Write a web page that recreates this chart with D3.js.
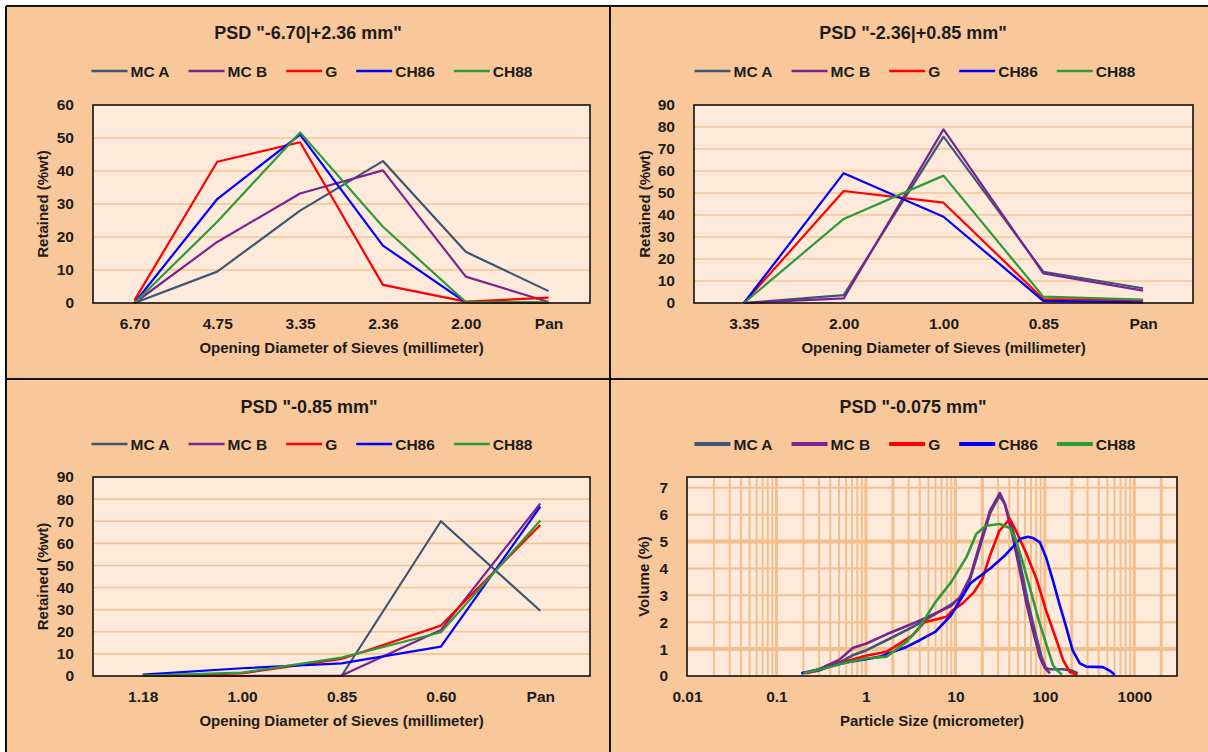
<!DOCTYPE html>
<html>
<head>
<meta charset="utf-8">
<script src="https://cdn.jsdelivr.net/npm/d3@7"></script>
<style>
body { margin:0; background:#fff; }
svg text { font-family: "Liberation Sans", Arial, sans-serif; font-weight: bold; fill:#1c1c1c; }
.tick text { font-size:15.5px; }
</style>
</head>
<body>
<script>
var seriesNames = ["MC A","MC B","G","CH86","CH88"];
var seriesColors = ["#3d5675","#7a2391","#ff0000","#0000ff","#2e9a38"];

// PSD "-6.70|+2.36 mm"
var sieves1 = ["6.70","4.75","3.35","2.36","2.00","Pan"];
var mcA1  = [0, 9.5, 28, 43, 15.5, 3.6];
var mcB1  = [0, 18.5, 33.2, 40.2, 8, 0.3];
var g1    = [0.8, 42.8, 48.7, 5.5, 0.4, 1.6];
var ch86a = [0, 31.5, 51, 17.4, 0.2, 0];
var ch88a = [0, 24.6, 51.7, 23.1, 0.3, 0.2];

// PSD "-2.36|+0.85 mm"
var sieves2 = ["3.35","2.00","1.00","0.85","Pan"];
var mcA2  = [0, 3.6, 75.6, 14.2, 6.7];
var mcB2  = [0, 2.1, 78.9, 13.5, 5.6];
var g2    = [0, 50.9, 45.6, 1.8, 1.3];
var ch86b = [0, 59, 39.2, 1, 0.3];
var ch88b = [0, 38.2, 57.9, 2.9, 1.6];

// PSD "-0.85 mm"
var sieves3 = ["1.18","1.00","0.85","0.60","Pan"];
var mcA3  = [0, 0, 0, 70, 29.5];
var mcB3  = [0, 0, 0.2, 20.8, 78];
var g3    = [0, 1.2, 7.7, 22.8, 68.3];
var ch86c = [0.6, 3.5, 5.7, 13.3, 76.6];
var ch88c = [0.2, 1.5, 8.3, 19.8, 70.3];

// PSD "-0.075 mm"  [size um, volume %]
var mcA4 = [[0.19,0.1],[0.3,0.2],[0.5,0.5],[0.72,0.78],[1.0,0.95],[1.7,1.33],[3.35,1.83],[5,2.15],[8.9,2.65],[11.3,2.9],[14.6,3.6],[18.8,4.8],[24.4,6.05],[31,6.7],[35.7,6.4],[46.2,5.16],[54.8,3.93],[65.3,2.69],[77,1.7],[91.8,0.71],[103,0.3],[114,0.25],[160,0.25],[200,0.2],[234,0.1]];
var mcB4 = [[0.21,0.1],[0.3,0.25],[0.5,0.6],[0.72,1.05],[1.0,1.2],[1.7,1.55],[3.35,1.95],[4.9,2.2],[8.9,2.6],[11.3,2.94],[14.6,3.68],[18.8,4.91],[24.4,6.15],[31.4,6.8],[35.7,6.4],[43.9,5.16],[52.4,3.93],[62.4,2.69],[73.4,1.7],[87.6,0.71],[100,0.3],[114,0.1]];
var g4 = [[0.22,0.1],[0.35,0.3],[0.6,0.55],[1.0,0.75],[1.7,0.9],[3.35,1.52],[4.5,2.0],[6,2.1],[8,2.2],[9,2.4],[12,2.7],[16,3.1],[20,3.6],[24.5,4.5],[31,5.4],[40.6,5.84],[47.6,5.4],[62.4,4.54],[81.7,3.56],[103,2.44],[135,1.33],[160,0.59],[190,0.15],[230,0.05]];
var ch86d = [[0.19,0.1],[0.3,0.25],[0.6,0.5],[1.0,0.62],[1.43,0.72],[2.84,1.08],[4,1.33],[6,1.65],[8.9,2.25],[14.7,3.45],[24.5,4.0],[35,4.45],[53,5.1],[65,5.18],[75,5.12],[88,4.97],[103,4.42],[123,3.56],[145,2.69],[173,1.83],[204,0.96],[246,0.47],[292,0.35],[444,0.33],[530,0.2],[605,0.05]];
var ch88d = [[0.2,0.1],[0.35,0.3],[0.6,0.5],[1.0,0.65],[1.7,0.72],[2.84,1.27],[4,1.83],[6,2.75],[9,3.5],[13.3,4.42],[17.1,5.28],[21.9,5.59],[31.4,5.65],[40.6,5.5],[47.6,5.04],[57.3,4.17],[70.9,3.06],[87.6,1.95],[109,0.96],[123,0.41],[138,0.2],[155,0.05]];
var sizeTicks = [0.01, 0.1, 1, 10, 100, 1000];

var peach = "#f8c89b";
var plotBg = "#fdeadb";
var gridCol = "#f3c596";

var svg = d3.select("body").append("svg").attr("width",1208).attr("height",752);
svg.append("rect").attr("width",1208).attr("height",752).attr("fill","#fff");
svg.append("rect").attr("x",6).attr("y",6).attr("width",1202).attr("height",746).attr("fill",peach);
[[6,6,1208,6],[6,6,6,752],[610,6,610,752],[6,379,1208,379]].forEach(function(l){
    svg.append("line").attr("x1",l[0]).attr("y1",l[1]).attr("x2",l[2]).attr("y2",l[3])
        .attr("stroke","#111").attr("stroke-width",2);
});

function drawLegend(cx, cy, lineW)
{
    var g = svg.append("g");
    var x = 0;
    seriesNames.forEach(function(name, i){
        g.append("line").attr("x1",x).attr("x2",x+36).attr("y1",0).attr("y2",0)
            .attr("stroke",seriesColors[i]).attr("stroke-width",lineW);
        var t = g.append("text").attr("x",x+39).attr("y",0).attr("dy","0.36em")
            .style("font-size","15.5px").text(name);
        x += 39 + t.node().getComputedTextLength() + 19;
    });
    x -= 19;
    g.attr("transform","translate("+(cx - x/2)+","+cy+")");
}

function drawTexts(p, xTitle, yTitle)
{
    svg.append("text").attr("x",p.titleX).attr("y",p.titleY).attr("dy","0.36em")
        .attr("text-anchor","middle").style("font-size","18px").text(p.title);
    svg.append("text").attr("x",p.left + p.width/2).attr("y",p.top + p.height + 45).attr("dy","0.36em")
        .attr("text-anchor","middle").style("font-size","15px").text(xTitle);
    svg.append("text").attr("transform","translate("+p.yTitleX+","+(p.top + p.height/2)+") rotate(-90)")
        .attr("dy","0.36em").attr("text-anchor","middle").style("font-size","15px").text(yTitle);
    drawLegend(p.legendX, p.legendY, p.legendW);
}

function cleanAxis(g)
{
    g.attr("font-family",null).attr("font-size",null);
    g.select(".domain").remove();
}

function sievePanel(p)
{
    var x = d3.scalePoint().domain(p.cats).range([p.left, p.left + p.width]).padding(0.5);
    var y = d3.scaleLinear().domain([0, p.ymax]).range([p.top + p.height, p.top]);
    var ticks = d3.range(0, p.ymax + 1, 10);

    svg.append("rect").attr("x",p.left).attr("y",p.top).attr("width",p.width).attr("height",p.height).attr("fill",plotBg);
    svg.append("g").selectAll("line").data(ticks.slice(1, -1)).enter().append("line")
        .attr("x1",p.left).attr("x2",p.left + p.width)
        .attr("y1",function(d){ return y(d); }).attr("y2",function(d){ return y(d); })
        .attr("stroke",gridCol).attr("stroke-width",1.6);

    var line = d3.line().x(function(d,i){ return x(p.cats[i]); }).y(function(d){ return y(d); });
    p.values.forEach(function(vals, i){
        svg.append("path").attr("d",line(vals)).attr("fill","none")
            .attr("stroke",seriesColors[i]).attr("stroke-width",2.2).attr("stroke-linejoin","round");
    });
    svg.append("rect").attr("x",p.left).attr("y",p.top).attr("width",p.width).attr("height",p.height)
        .attr("fill","none").attr("stroke","#111").attr("stroke-width",1.6);

    svg.append("g").attr("transform","translate("+p.left+",0)")
        .call(d3.axisLeft(y).tickValues(ticks).tickSize(0).tickPadding(19)).call(cleanAxis);
    svg.append("g").attr("transform","translate(0,"+(p.top + p.height)+")")
        .call(d3.axisBottom(x).tickSize(0).tickPadding(14.5)).call(cleanAxis);

    drawTexts(p, "Opening Diameter of Sieves (millimeter)", "Retained (%wt)");
}

function logPanel(p)
{
    var x = d3.scaleLog().domain([0.01, 3000]).range([p.left, p.left + p.width]);
    var y = d3.scaleLinear().domain([0, 7.4]).range([p.top + p.height, p.top]);

    svg.append("rect").attr("x",p.left).attr("y",p.top).attr("width",p.width).attr("height",p.height).attr("fill",plotBg);
    var vgrid = x.ticks().filter(function(d){ return d > 0.01; });
    svg.append("g").selectAll("line").data(vgrid).enter().append("line")
        .attr("x1",function(d){ return x(d); }).attr("x2",function(d){ return x(d); })
        .attr("y1",p.top).attr("y2",p.top + p.height)
        .attr("stroke","#f2c08e").attr("stroke-width",function(d){ return sizeTicks.indexOf(d) >= 0 || String(d).charAt(0) == "2" ? 3 : 2; });
    svg.append("g").selectAll("line").data(d3.range(1, 8)).enter().append("line")
        .attr("x1",p.left).attr("x2",p.left + p.width)
        .attr("y1",function(d){ return y(d); }).attr("y2",function(d){ return y(d); })
        .attr("stroke","#f2c08e").attr("stroke-width",function(d){ return d == 1 || d == 5 ? 4 : 2; });

    var line = d3.line().x(function(d){ return x(d[0]); }).y(function(d){ return y(d[1]); });
    p.values.forEach(function(vals, i){
        svg.append("path").attr("d",line(vals)).attr("fill","none")
            .attr("stroke",seriesColors[i]).attr("stroke-width",2.6).attr("stroke-linejoin","round");
    });
    svg.append("rect").attr("x",p.left).attr("y",p.top).attr("width",p.width).attr("height",p.height)
        .attr("fill","none").attr("stroke","#111").attr("stroke-width",1.6);

    svg.append("g").attr("transform","translate("+p.left+",0)")
        .call(d3.axisLeft(y).tickValues(d3.range(0, 8)).tickSize(0).tickPadding(19)).call(cleanAxis);
    svg.append("g").attr("transform","translate(0,"+(p.top + p.height)+")")
        .call(d3.axisBottom(x).tickValues(sizeTicks).tickFormat(function(d){ return String(d); }).tickSize(0).tickPadding(14.5))
        .call(cleanAxis);

    drawTexts(p, "Particle Size (micrometer)", "Volume (%)");
}

sievePanel({left:93, top:105, width:497, height:198, cats:sieves1, ymax:60,
    values:[mcA1, mcB1, g1, ch86a, ch88a], title:'PSD "-6.70|+2.36 mm"',
    titleX:308, titleY:33, legendX:312, legendY:71, legendW:2.4, yTitleX:43});
sievePanel({left:694, top:105, width:499, height:198, cats:sieves2, ymax:90,
    values:[mcA2, mcB2, g2, ch86b, ch88b], title:'PSD "-2.36|+0.85 mm"',
    titleX:913, titleY:33, legendX:915, legendY:71, legendW:2.4, yTitleX:645});
sievePanel({left:93, top:477, width:497, height:199, cats:sieves3, ymax:90,
    values:[mcA3, mcB3, g3, ch86c, ch88c], title:'PSD "-0.85 mm"',
    titleX:309, titleY:407, legendX:312, legendY:444, legendW:2.4, yTitleX:43});
logPanel({left:687, top:477, width:490, height:199,
    values:[mcA4, mcB4, g4, ch86d, ch88d], title:'PSD "-0.075 mm"',
    titleX:913, titleY:407, legendX:915, legendY:444, legendW:4, yTitleX:644});
</script>
</body>
</html>
